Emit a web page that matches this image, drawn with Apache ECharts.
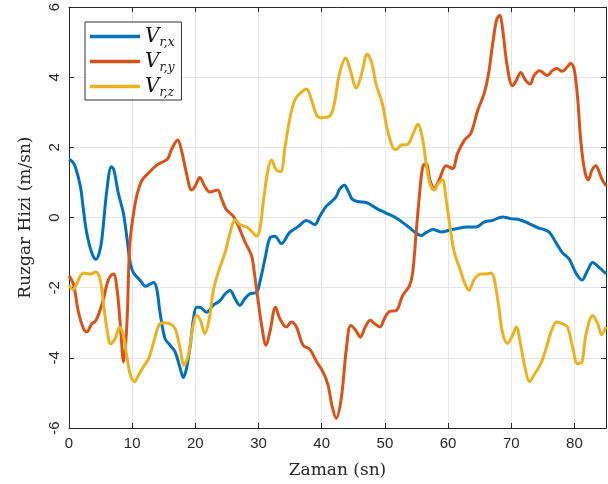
<!DOCTYPE html>
<html><head><meta charset="utf-8">
<script src="https://cdn.jsdelivr.net/npm/echarts@6/dist/echarts.min.js"></script>
<style>html,body{margin:0;padding:0;background:#fff}#c{width:608px;height:484px}</style>
</head><body><div id="c"></div>
<script>
const seriesNames = ['Vr,x', 'Vr,y', 'Vr,z'];
const xTicks = [0, 10, 20, 30, 40, 50, 60, 70, 80];
const yTicks = [-6, -4, -2, 0, 2, 4, 6];

const tX = [0,0.5,1.0,1.8,2.3,2.8,3.6,4.3,4.8,5.2,6.0,6.7,7.1,7.8,8.6,9.2,9.7,10.2,11.3,12.1,12.8,13.4,13.9,14.4,15.2,16.0,16.8,17.6,18.1,18.6,19.2,19.7,20.2,20.7,21.8,22.8,23.9,24.7,25.5,26.3,27.05,27.8,28.6,29.7,30.2,31.0,31.8,32.6,33.6,34.9,36.3,37.6,38.9,39.7,40.7,41.5,42.3,42.8,43.6,44.2,44.9,46.0,47.05,48.6,50.2,51.8,53.4,54.7,55.7,56.5,57.6,58.9,60.2,61.5,62.9,64.4,65.7,67.05,68.6,69.9,71.3,72.8,74.2,75.2,76.1,77.1,78.1,79.2,80.2,81.2,82.05,82.9,83.9,85];
const vX = [1.66,1.6,1.45,0.89,0.2,-0.43,-1.0,-1.19,-1.0,-0.62,0.79,1.45,1.36,0.7,0.13,-0.62,-1.3,-1.57,-1.8,-1.96,-1.9,-1.85,-2.04,-2.7,-3.45,-3.64,-3.83,-4.3,-4.56,-4.3,-3.64,-2.89,-2.56,-2.56,-2.7,-2.5,-2.37,-2.18,-2.08,-2.32,-2.5,-2.32,-2.18,-2.13,-1.85,-1.19,-0.58,-0.53,-0.74,-0.43,-0.25,-0.08,-0.2,0.04,0.32,0.45,0.6,0.8,0.92,0.75,0.51,0.45,0.43,0.27,0.13,-0.01,-0.22,-0.41,-0.51,-0.43,-0.34,-0.41,-0.36,-0.31,-0.27,-0.27,-0.13,-0.08,0.02,-0.03,-0.06,-0.17,-0.29,-0.34,-0.43,-0.72,-1.0,-1.19,-1.57,-1.78,-1.52,-1.28,-1.42,-1.6];

const tY = [0,0.7,1.5,2.3,2.8,3.6,4.2,4.9,5.5,6.0,6.5,7.05,7.6,8.1,8.65,9.15,9.5,9.7,10.2,10.7,11.5,12.6,13.3,14.1,15.2,15.7,16.3,17.2,17.8,18.6,19.4,19.95,20.7,21.5,22.3,23.5,24.2,24.9,26.0,27.05,27.8,28.9,29.4,29.9,30.5,31.2,31.8,32.7,33.4,34.4,35.2,36.0,37.05,38.1,39.2,40.2,41.0,41.6,42.3,43.1,43.9,44.6,45.4,46.1,46.9,47.7,48.4,49.2,49.9,50.7,51.8,52.8,53.9,54.4,54.95,55.5,56.0,56.5,57.2,57.8,58.6,59.7,60.7,61.5,62.6,63.6,64.7,65.7,66.4,67.05,67.7,68.2,68.6,69.4,70.2,70.8,71.5,72.3,73.0,73.6,74.5,75.7,76.5,77.2,78.1,78.8,79.4,79.95,80.5,81.0,81.6,82.2,82.8,83.4,83.9,84.4,85];
const vY = [-1.66,-1.9,-2.7,-3.17,-3.26,-3.03,-2.95,-2.65,-2.3,-1.9,-1.68,-1.61,-2.04,-3.0,-4.12,-3.08,-1.2,-0.6,0.1,0.6,1.05,1.27,1.4,1.52,1.62,1.7,1.97,2.21,1.92,1.26,0.79,0.89,1.14,0.89,0.73,0.79,0.51,0.23,0.04,-0.34,-0.67,-1.09,-1.66,-2.32,-3.08,-3.64,-3.26,-2.56,-2.89,-3.12,-2.98,-3.12,-3.64,-3.75,-4.11,-4.4,-4.77,-5.34,-5.72,-5.15,-3.74,-3.08,-3.22,-3.41,-3.12,-2.93,-3.03,-3.12,-2.89,-2.68,-2.65,-2.23,-1.94,-1.57,-0.43,0.7,1.45,1.55,1.03,0.84,1.08,1.48,1.4,1.83,2.21,2.4,3.06,3.53,4.09,4.94,5.65,5.77,5.42,4.28,3.76,3.91,4.14,3.91,3.81,4.05,4.19,4.05,4.19,4.25,4.17,4.28,4.4,4.24,3.43,2.21,1.36,1.08,1.36,1.48,1.31,1.08,0.9];

const tZ = [0,0.6,1.2,1.8,2.3,3.4,4.2,4.9,5.5,6.0,6.6,7.3,8.0,8.6,9.2,9.8,10.4,11.0,11.8,12.6,13.4,14.2,14.9,16.0,16.8,17.6,18.2,18.9,19.6,20.2,20.8,21.5,22.2,22.8,23.6,24.7,25.5,26.3,27.05,28.1,28.9,29.7,30.2,30.8,31.5,32.05,32.8,33.5,34.2,34.9,35.7,36.5,37.6,38.4,39.2,39.95,41.3,42.05,42.8,43.8,44.4,45.5,46.3,47.2,47.9,48.6,49.6,50.3,51.2,51.8,52.6,53.6,54.5,55.2,56.0,56.6,57.2,57.8,58.5,59.1,59.7,60.3,61.0,61.9,62.6,63.3,64.2,65.2,66.0,66.8,67.3,68.0,68.6,69.4,70.2,70.8,71.5,72.2,72.9,73.6,74.7,75.5,76.3,77.2,78.1,78.9,79.7,80.5,81.2,81.8,82.9,83.7,84.3,85];
const vZ = [-1.92,-2.06,-1.9,-1.66,-1.58,-1.61,-1.55,-1.75,-2.51,-3.17,-3.6,-3.45,-3.12,-3.36,-4.02,-4.54,-4.68,-4.49,-4.25,-4.02,-3.55,-3.08,-3.0,-3.03,-3.17,-3.74,-4.21,-3.92,-3.12,-2.79,-2.93,-3.31,-2.89,-2.13,-1.57,-1.0,-0.43,-0.06,-0.2,-0.27,-0.39,-0.53,-0.34,0.51,1.36,1.64,1.36,1.31,2.02,2.77,3.34,3.53,3.67,3.34,2.92,2.85,2.9,3.3,4.09,4.55,4.28,3.7,4.09,4.66,4.42,3.81,3.25,2.58,2.02,1.94,2.07,2.09,2.4,2.66,2.21,1.45,0.93,0.79,0.98,1.08,0.51,-0.25,-1.0,-1.47,-1.85,-2.07,-1.75,-1.61,-1.61,-1.58,-1.75,-2.51,-3.26,-3.59,-3.36,-3.12,-3.64,-4.3,-4.68,-4.49,-4.16,-3.74,-3.26,-2.98,-3.03,-3.12,-3.69,-4.16,-4.11,-3.36,-2.79,-3.03,-3.34,-3.12];

const colors = ['#0072BD', '#D95319', '#EDB120'];
const pairs = (t, v) => t.map((x, i) => [x, v[i]]);
const allSeries = [pairs(tX, vX), pairs(tY, vY), pairs(tZ, vZ)];

const axisColor = '#262626';
const tickFont = {fontFamily: 'Liberation Sans, Arial, sans-serif', fontSize: 15, color: '#262626'};

const chart = echarts.init(document.getElementById('c'), null, {renderer: 'canvas'});
const baseX = {
  type: 'value', min: 0, max: 85, interval: 10,
  axisLine: {show: true, onZero: false, lineStyle: {color: axisColor, width: 1}},
  axisTick: {show: true, inside: true, length: 5, lineStyle: {color: axisColor}},
};
const baseY = {
  type: 'value', min: -6, max: 6, interval: 2,
  axisLine: {show: true, onZero: false, lineStyle: {color: axisColor, width: 1}},
  axisTick: {show: true, inside: true, length: 5, lineStyle: {color: axisColor}},
};
chart.setOption({
  animation: false,
  backgroundColor: '#fff',
  grid: {left: 69, right: 2, top: 6, bottom: 54, containLabel: false},
  xAxis: [
    Object.assign({}, baseX, {
      position: 'bottom',
      name: 'Zaman (sn)', nameLocation: 'middle', nameGap: 34,
      nameTextStyle: {fontFamily: 'DejaVu Serif', fontSize: 17, color: '#262626'},
      axisLabel: Object.assign({margin: 8, showMaxLabel: false,
        formatter: v => (xTicks.indexOf(v) >= 0 ? String(v) : '')}, tickFont),
      splitLine: {show: true, lineStyle: {color: '#e5e5e5', width: 1}},
    }),
    Object.assign({}, baseX, {position: 'top', axisLabel: {show: false}, splitLine: {show: false}}),
  ],
  yAxis: [
    Object.assign({}, baseY, {
      position: 'left',
      name: 'Ruzgar Hizi (m/sn)', nameLocation: 'middle', nameGap: 35,
      nameTextStyle: {fontFamily: 'DejaVu Serif', fontSize: 17, color: '#262626'},
      axisLabel: Object.assign({margin: 7, rotate: 90,
        formatter: v => (yTicks.indexOf(v) >= 0 ? String(v) : '')}, tickFont),
      splitLine: {show: true, lineStyle: {color: '#e5e5e5', width: 1}},
    }),
    Object.assign({}, baseY, {position: 'right', axisLabel: {show: false}, splitLine: {show: false}}),
  ],
  legend: {
    left: 85, top: 22, orient: 'vertical',
    padding: [2, 7, 1, 5],
    itemGap: 0,
    itemWidth: 50, itemHeight: 3.5,
    icon: 'rect',
    backgroundColor: '#fff', borderColor: '#333', borderWidth: 1,
    data: seriesNames,
    formatter: n => '{v|V}{s|' + n.slice(1) + '}',
    textStyle: {
      rich: {
        v: {fontFamily: 'DejaVu Serif', fontStyle: 'italic', fontSize: 20, color: '#111', height: 25, lineHeight: 25},
        s: {fontFamily: 'DejaVu Serif', fontStyle: 'italic', fontSize: 12, color: '#111', height: 13, lineHeight: 13, padding: [12, 0, 0, 0]},
      }
    }
  },
  series: allSeries.map((d, i) => ({
    name: seriesNames[i], type: 'line', data: d,
    xAxisIndex: 0, yAxisIndex: 0,
    showSymbol: false, symbol: 'none', smooth: 0.35,
    lineStyle: {color: colors[i], width: 3},
    itemStyle: {color: colors[i]},
    z: 2 + i,
  })),
});
</script></body></html>
